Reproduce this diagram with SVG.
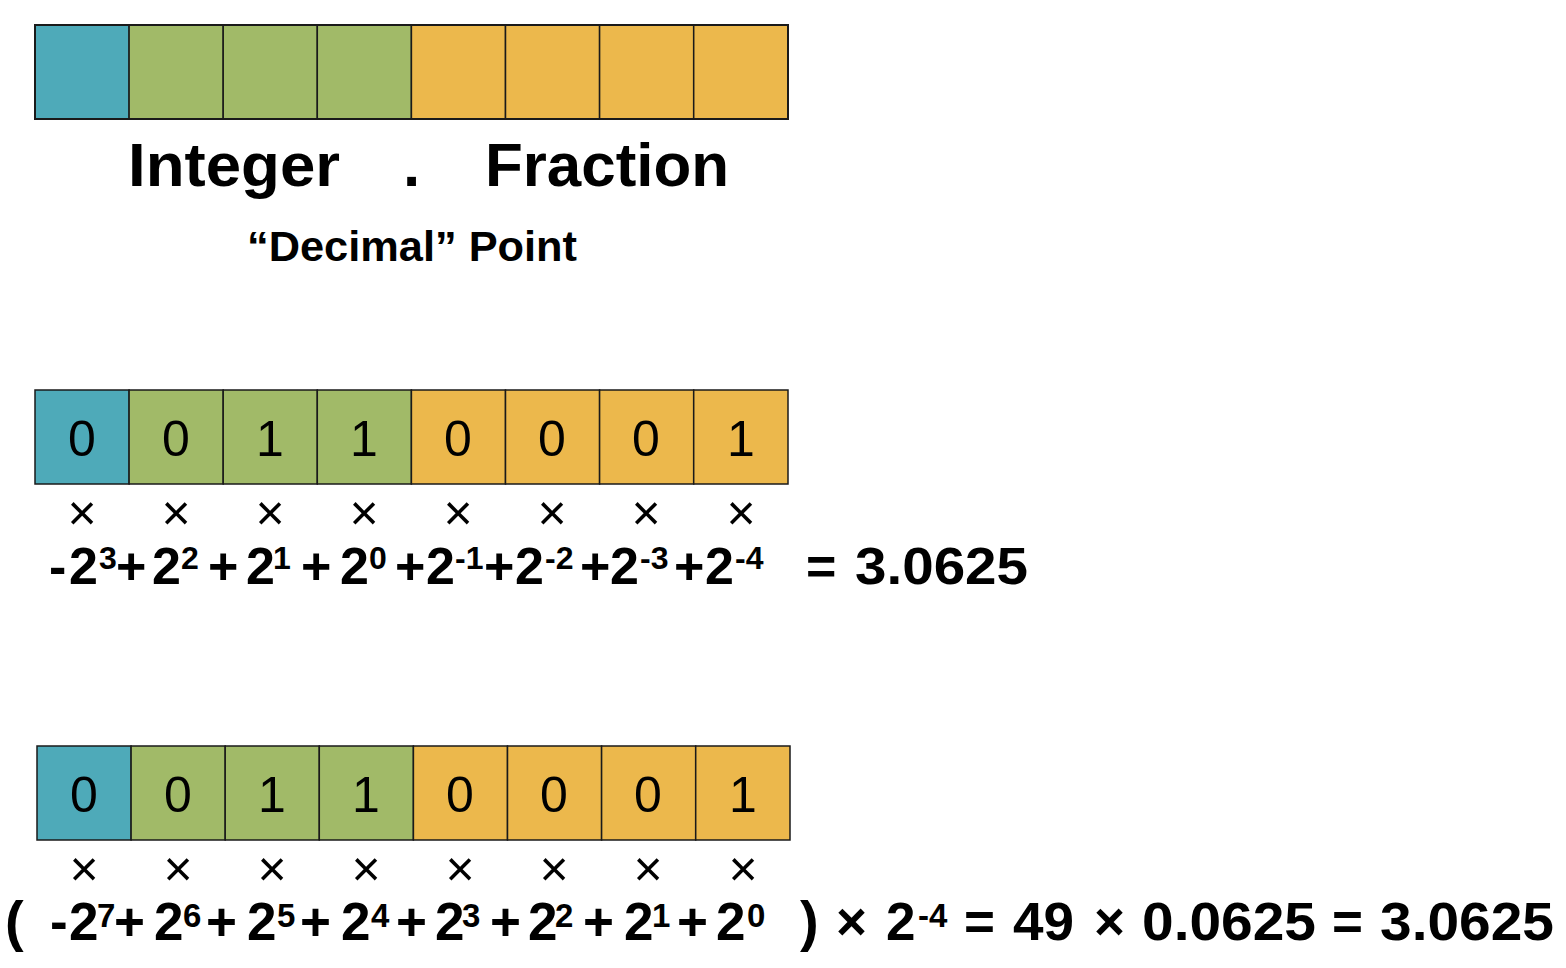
<svg xmlns="http://www.w3.org/2000/svg" width="1566" height="968" viewBox="0 0 1566 968">
<style>
.cell{stroke:#1a1a1a;stroke-width:1.5}
.s{fill:#4EAAB9}.i{fill:#A1BA68}.f{fill:#ECB84C}
.t{font-family:"Liberation Sans",Arial,sans-serif;fill:#000}
.b{font-weight:bold}
.bit{font-size:50px;text-anchor:middle}
.x{font-size:50px;text-anchor:middle}
.m2{font-size:52px;font-weight:bold}
.p2{font-size:32px;font-weight:bold}
.m3{font-size:53px;font-weight:bold}
.p3{font-size:33px;font-weight:bold}
</style>
<rect width="1566" height="968" fill="#fff"/>
<g id="register-layout">
<rect class="cell s" x="35" y="25" width="94.1" height="94"/>
<rect class="cell i" x="129.1" y="25" width="94.1" height="94"/>
<rect class="cell i" x="223.2" y="25" width="94.1" height="94"/>
<rect class="cell i" x="317.3" y="25" width="94.1" height="94"/>
<rect class="cell f" x="411.4" y="25" width="94.1" height="94"/>
<rect class="cell f" x="505.5" y="25" width="94.1" height="94"/>
<rect class="cell f" x="599.6" y="25" width="94.1" height="94"/>
<rect class="cell f" x="693.7" y="25" width="94.3" height="94"/>
<rect x="35" y="25" width="753" height="94" fill="none" stroke="#1a1a1a" stroke-width="2"/>
</g>
<g id="labels">
<text class="t b" x="128" y="186" font-size="62" textLength="212" lengthAdjust="spacingAndGlyphs">Integer</text>
<text class="t b" x="403" y="186" font-size="62">.</text>
<text class="t b" x="485" y="186" font-size="62" textLength="244" lengthAdjust="spacingAndGlyphs">Fraction</text>
<text class="t b" x="247" y="261" font-size="42" textLength="330" lengthAdjust="spacingAndGlyphs">“Decimal” Point</text>
</g>
<g id="register-fixed">
<rect class="cell s" x="35" y="390" width="94.1" height="94"/>
<rect class="cell i" x="129.1" y="390" width="94.1" height="94"/>
<rect class="cell i" x="223.2" y="390" width="94.1" height="94"/>
<rect class="cell i" x="317.3" y="390" width="94.1" height="94"/>
<rect class="cell f" x="411.4" y="390" width="94.1" height="94"/>
<rect class="cell f" x="505.5" y="390" width="94.1" height="94"/>
<rect class="cell f" x="599.6" y="390" width="94.1" height="94"/>
<rect class="cell f" x="693.7" y="390" width="94.3" height="94"/>
<g class="t bit">
<text x="82" y="456">0</text><text x="176" y="456">0</text><text x="270" y="456">1</text><text x="364" y="456">1</text>
<text x="458" y="456">0</text><text x="552" y="456">0</text><text x="646" y="456">0</text><text x="741" y="456">1</text>
</g>
<g class="t x">
<text x="82" y="530">×</text><text x="176" y="530">×</text><text x="270" y="530">×</text><text x="364" y="530">×</text>
<text x="458" y="530">×</text><text x="552" y="530">×</text><text x="646" y="530">×</text><text x="741" y="530">×</text>
</g>
</g>
<g id="equation-fixed" class="t">
<text class="m2" x="49" y="584">-</text>
<text class="m2" x="69" y="584">2</text><text class="p2" x="99" y="569">3</text>
<text class="m2" x="116" y="584">+</text>
<text class="m2" x="152" y="584">2</text><text class="p2" x="181" y="569">2</text>
<text class="m2" x="208" y="584">+</text>
<text class="m2" x="246" y="584">2</text><text class="p2" x="273" y="569">1</text>
<text class="m2" x="301" y="584">+</text>
<text class="m2" x="340" y="584">2</text><text class="p2" x="369" y="569">0</text>
<text class="m2" x="395" y="584">+</text>
<text class="m2" x="426" y="584">2</text><text class="p2" x="455" y="569">-1</text>
<text class="m2" x="484" y="584">+</text>
<text class="m2" x="515" y="584">2</text><text class="p2" x="545" y="569">-2</text>
<text class="m2" x="580" y="584">+</text>
<text class="m2" x="610" y="584">2</text><text class="p2" x="640" y="569">-3</text>
<text class="m2" x="674" y="584">+</text>
<text class="m2" x="705" y="584">2</text><text class="p2" x="735" y="569">-4</text>
<text class="m2" x="806" y="584">=</text>
<text class="m2" x="855" y="584" textLength="173" lengthAdjust="spacingAndGlyphs">3.0625</text>
</g>
<g id="register-scaled">
<rect class="cell s" x="37" y="746" width="94.1" height="94"/>
<rect class="cell i" x="131.1" y="746" width="94.1" height="94"/>
<rect class="cell i" x="225.2" y="746" width="94.1" height="94"/>
<rect class="cell i" x="319.3" y="746" width="94.1" height="94"/>
<rect class="cell f" x="413.4" y="746" width="94.1" height="94"/>
<rect class="cell f" x="507.5" y="746" width="94.1" height="94"/>
<rect class="cell f" x="601.6" y="746" width="94.1" height="94"/>
<rect class="cell f" x="695.7" y="746" width="94.3" height="94"/>
<g class="t bit">
<text x="84" y="812">0</text><text x="178" y="812">0</text><text x="272" y="812">1</text><text x="366" y="812">1</text>
<text x="460" y="812">0</text><text x="554" y="812">0</text><text x="648" y="812">0</text><text x="743" y="812">1</text>
</g>
<g class="t x">
<text x="84" y="886">×</text><text x="178" y="886">×</text><text x="272" y="886">×</text><text x="366" y="886">×</text>
<text x="460" y="886">×</text><text x="554" y="886">×</text><text x="648" y="886">×</text><text x="743" y="886">×</text>
</g>
</g>
<g id="equation-scaled" class="t">
<text class="b" x="5" y="940" font-size="56">(</text>
<text class="m3" x="50" y="940">-</text>
<text class="m3" x="69" y="940">2</text><text class="p3" x="97" y="927">7</text>
<text class="m3" x="114" y="940">+</text>
<text class="m3" x="154" y="940">2</text><text class="p3" x="183" y="927">6</text>
<text class="m3" x="206" y="940">+</text>
<text class="m3" x="247" y="940">2</text><text class="p3" x="277" y="927">5</text>
<text class="m3" x="300" y="940">+</text>
<text class="m3" x="341" y="940">2</text><text class="p3" x="371" y="927">4</text>
<text class="m3" x="396" y="940">+</text>
<text class="m3" x="435" y="940">2</text><text class="p3" x="462" y="927">3</text>
<text class="m3" x="490" y="940">+</text>
<text class="m3" x="528" y="940">2</text><text class="p3" x="555" y="927">2</text>
<text class="m3" x="583" y="940">+</text>
<text class="m3" x="624" y="940">2</text><text class="p3" x="652" y="927">1</text>
<text class="m3" x="677" y="940">+</text>
<text class="m3" x="716" y="940">2</text><text class="p3" x="747" y="927">0</text>
<text class="b" x="800" y="940" font-size="56">)</text>
<text class="m3" x="836" y="940">×</text>
<text class="m3" x="886" y="940">2</text><text class="p3" x="918" y="927">-4</text>
<text class="m3" x="964" y="940">=</text>
<text class="m3" x="1013" y="940" textLength="61" lengthAdjust="spacingAndGlyphs">49</text>
<text class="m3" x="1094" y="940">×</text>
<text class="m3" x="1142" y="940" textLength="174" lengthAdjust="spacingAndGlyphs">0.0625</text>
<text class="m3" x="1332" y="940">=</text>
<text class="m3" x="1380" y="940" textLength="174" lengthAdjust="spacingAndGlyphs">3.0625</text>
</g>
</svg>
